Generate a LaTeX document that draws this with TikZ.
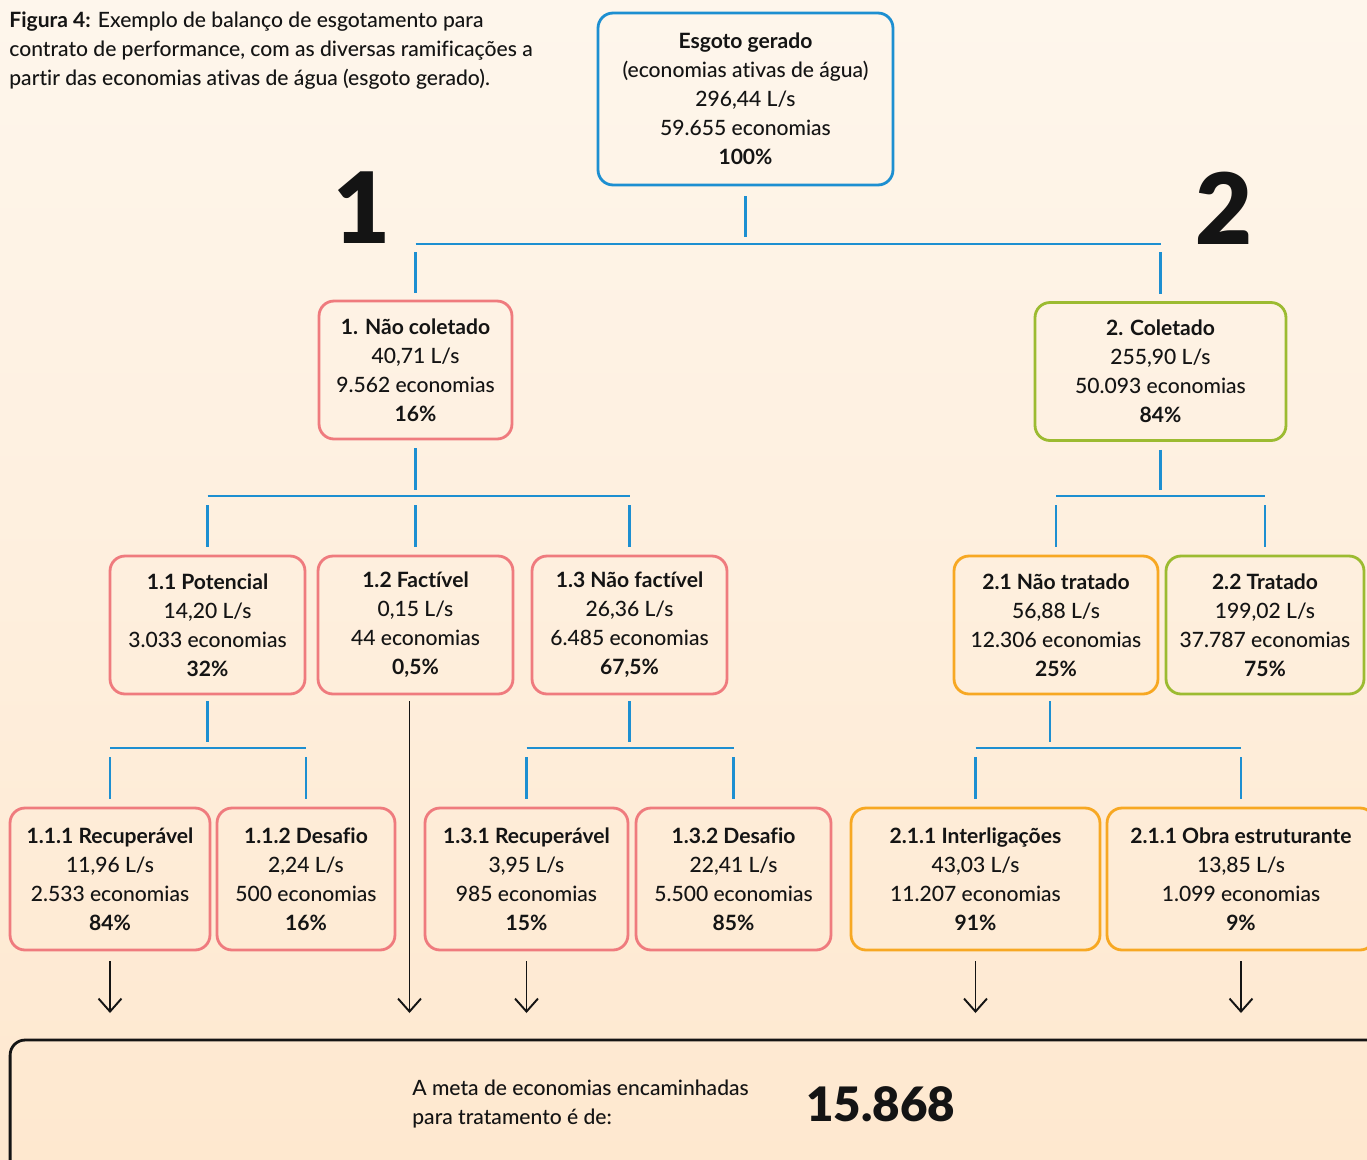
\documentclass[tikz,border=0pt]{standalone}
\usepackage{fontspec}
\IfFontExistsTF{Lato Medium}
  {\setmainfont{Lato Medium}[Ligatures=NoCommon, BoldFont={Lato Bold}]}
  {\setmainfont{Lato}[Ligatures=NoCommon]}
\IfFontExistsTF{Lato Black}
  {\newfontfamily\heavyfont{Lato Black}[Ligatures=NoCommon]}
  {\newfontfamily\heavyfont{Lato}[Ligatures=NoCommon, UprightFont={* Bold}]}
\usepackage{tikz}
\usetikzlibrary{arrows.meta,positioning,calc}
\definecolor{bgTop}{HTML}{FEF6EC}
\definecolor{bgBot}{HTML}{FEE8CF}
\definecolor{lineBlue}{HTML}{1D8FD1}
\definecolor{boxRed}{HTML}{EF7B7E}
\definecolor{boxGreen}{HTML}{9CBB31}
\definecolor{boxOrange}{HTML}{F7A823}
\definecolor{inkBlack}{HTML}{141414}

\begin{document}
\begin{tikzpicture}[x=0.02cm, y=-0.02cm, font=\fontsize{12}{16.5}\selectfont, text=inkBlack,
  box/.style={draw, rounded corners=0.3cm, line width=1.6pt, align=center, inner sep=0pt},
  bluebox/.style={box, draw=lineBlue},
  redbox/.style={box, draw=boxRed},
  greenbox/.style={box, draw=boxGreen},
  orangebox/.style={box, draw=boxOrange},
  lvtwo/.style={minimum height=2.76cm},
  lvthree/.style={minimum height=2.84cm},
  bignum/.style={font=\fontsize{56}{56}\selectfont\heavyfont, inner sep=0pt},
  bus/.style={lineBlue, line width=1.6pt},
  flow/.style={inkBlack, line width=1.1pt, -{Straight Barb[length=2.6mm,width=4.6mm]}}]
% page and background (pixel grid, y downwards)
\useasboundingbox (0,0) rectangle (1367,1160);
\clip (0,0) rectangle (1367,1160);
\shade[top color=bgTop, bottom color=bgBot] (0,0) rectangle (1367,1160);
% ---------- caption ----------
\node[anchor=north west, align=left, inner sep=0pt] (cap) at (9,12)
  {\textbf{Figura 4:} Exemplo de balanço de esgotamento para\\contrato de performance, com as diversas ramificações a\\partir das economias ativas de água (esgoto gerado).};
% ---------- top ----------
\node[bluebox, minimum width=5.9cm, minimum height=3.44cm] (gen) at (745.5,99)
  {\textbf{Esgoto gerado}\\(economias ativas de água)\\296,44 L/s\\59.655 economias\\\textbf{100\%}};
\node[bignum] (one) at (362,208) {1};
\node[bignum] (two) at (1224,208) {2};
% ---------- level 1 ----------
\node[redbox, lvtwo, minimum width=3.86cm] (ncol) at (415.5,370)
  {\textbf{1. Não coletado}\\40,71 L/s\\9.562 economias\\\textbf{16\%}};
\node[greenbox, lvtwo, minimum width=5.02cm] (col) at (1160.5,371.5)
  {\textbf{2. Coletado}\\255,90 L/s\\50.093 economias\\\textbf{84\%}};
% ---------- level 2 ----------
\node[redbox, lvtwo, minimum width=3.9cm] (n11) at (207.5,625)
  {\textbf{1.1 Potencial}\\14,20 L/s\\3.033 economias\\\textbf{32\%}};
\node[redbox, lvtwo, minimum width=3.9cm] (n12) at (415.5,625)
  {\textbf{1.2 Factível}\\0,15 L/s\\44 economias\\\textbf{0,5\%}};
\node[redbox, lvtwo, minimum width=3.9cm] (n13) at (629.5,625)
  {\textbf{1.3 Não factível}\\26,36 L/s\\6.485 economias\\\textbf{67,5\%}};
\node[orangebox, lvtwo, minimum width=4.08cm] (n21) at (1056,625)
  {\textbf{2.1 Não tratado}\\56,88 L/s\\12.306 economias\\\textbf{25\%}};
\node[greenbox, lvtwo, minimum width=3.96cm] (n22) at (1265,625)
  {\textbf{2.2 Tratado}\\199,02 L/s\\37.787 economias\\\textbf{75\%}};
% ---------- level 3 ----------
\node[redbox, lvthree, minimum width=4.0cm] (n111) at (110,879)
  {\textbf{1.1.1 Recuperável}\\11,96 L/s\\2.533 economias\\\textbf{84\%}};
\node[redbox, lvthree, minimum width=3.56cm] (n112) at (306,879)
  {\textbf{1.1.2 Desafio}\\2,24 L/s\\500 economias\\\textbf{16\%}};
\node[redbox, lvthree, minimum width=4.06cm] (n131) at (526.5,879)
  {\textbf{1.3.1 Recuperável}\\3,95 L/s\\985 economias\\\textbf{15\%}};
\node[redbox, lvthree, minimum width=3.9cm] (n132) at (733.5,879)
  {\textbf{1.3.2 Desafio}\\22,41 L/s\\5.500 economias\\\textbf{85\%}};
\node[orangebox, lvthree, minimum width=4.98cm] (n211) at (975.5,879)
  {\textbf{2.1.1 Interligações}\\43,03 L/s\\11.207 economias\\\textbf{91\%}};
\node[orangebox, lvthree, minimum width=5.36cm] (n212) at (1241,879)
  {\textbf{2.1.1 Obra estruturante}\\13,85 L/s\\1.099 economias\\\textbf{9\%}};
% ---------- goal ----------
\node[box, draw=inkBlack, minimum width=27.6cm, minimum height=3cm] (goal) at (700,1115) {};
\node[anchor=west, align=left, inner sep=0pt] (goaltxt) at (412,1104)
  {A meta de economias encaminhadas\\para tratamento é de:};
\node[anchor=west, inner sep=0pt, font=\fontsize{27}{27}\selectfont\heavyfont] (goalnum) at (806,1104) {15.868};
% ---------- connectors ----------
\coordinate (bus0) at (0,244);
\coordinate (bus1) at (0,496);
\coordinate (bus2) at (0,748);
\coordinate (stop) at (0,1013);
% gen -> 1, 2
\draw[bus] ($(gen.south)+(0,10)$) -- ($(gen.south |- bus0)+(0,-7)$);
\draw[bus] (ncol.north |- bus0) -- (col.north |- bus0);
\foreach \n in {ncol,col}
  \draw[bus] ($(\n.north |- bus0)+(0,8)$) -- ($(\n.north)+(0,-7)$);
% 1 -> 1.1, 1.2, 1.3
\draw[bus] ($(ncol.south)+(0,8)$) -- ($(ncol.south |- bus1)+(0,-6)$);
\draw[bus] (n11.north |- bus1) -- (n13.north |- bus1);
\foreach \n in {n11,n12,n13}
  \draw[bus] ($(\n.north |- bus1)+(0,9)$) -- ($(\n.north)+(0,-8)$);
% 2 -> 2.1, 2.2
\draw[bus] ($(col.south)+(0,8)$) -- ($(col.south |- bus1)+(0,-6)$);
\draw[bus] (n21.north |- bus1) -- (n22.north |- bus1);
\foreach \n in {n21,n22}
  \draw[bus] ($(\n.north |- bus1)+(0,9)$) -- ($(\n.north)+(0,-8)$);
% 1.1 -> 1.1.1, 1.1.2
\draw[bus] ($(n11.south)+(0,6)$) -- ($(n11.south |- bus2)+(0,-6)$);
\draw[bus] (n111.north |- bus2) -- (n112.north |- bus2);
\foreach \n in {n111,n112}
  \draw[bus] ($(\n.north |- bus2)+(0,9)$) -- ($(\n.north)+(0,-8)$);
% 1.3 -> 1.3.1, 1.3.2
\draw[bus] ($(n13.south)+(0,6)$) -- ($(n13.south |- bus2)+(0,-6)$);
\draw[bus] (n131.north |- bus2) -- (n132.north |- bus2);
\foreach \n in {n131,n132}
  \draw[bus] ($(\n.north |- bus2)+(0,9)$) -- ($(\n.north)+(0,-8)$);
% 2.1 -> 2.1.1, 2.1.1
\draw[bus] ($(n21.south)+(-6,6)$) -- ($(n21.south |- bus2)+(-6,-6)$);
\draw[bus] (n211.north |- bus2) -- (n212.north |- bus2);
\foreach \n in {n211,n212}
  \draw[bus] ($(\n.north |- bus2)+(0,9)$) -- ($(\n.north)+(0,-8)$);
% arrows to goal
\foreach \n in {n111,n131,n211,n212}
  \draw[flow] ($(\n.south)+(0,10)$) -- (\n.south |- stop);
\draw[flow] ($(n12.south)+(-6,6)$) -- ($(n12.south |- stop)+(-6,0)$);
\end{tikzpicture}
\end{document}
